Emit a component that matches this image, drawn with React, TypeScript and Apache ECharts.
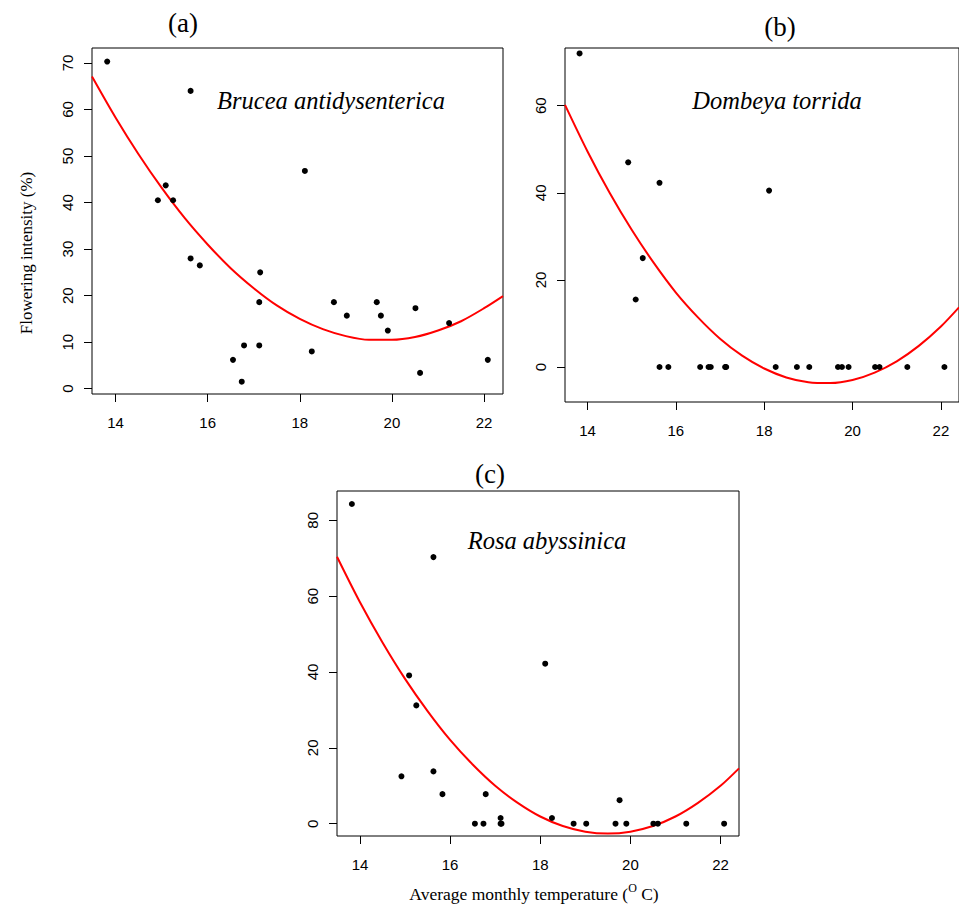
import React, { useEffect, useRef } from "react";
import * as echarts from "echarts";

// Shared temperature values (°C) for each site
const temperature = [13.82, 14.92, 15.09, 15.25, 15.63, 15.63, 15.83, 16.55, 16.74, 16.79, 17.12, 17.12, 17.14, 18.11, 18.26, 18.74, 19.02, 19.67, 19.76, 19.91, 20.51, 20.61, 21.24, 22.08];

// Flowering intensity (%) per species
const brucea = [70.3, 40.5, 43.7, 40.5, 64.0, 28.0, 26.5, 6.2, 1.5, 9.3, 18.6, 9.3, 25.0, 46.8, 8.0, 18.6, 15.7, 18.6, 15.7, 12.5, 17.3, 3.4, 14.1, 6.2];
const dombeya = [72.0, 47.0, 15.5, 25.0, 42.3, 0, 0, 0, 0, 0, 0, 0, 0, 40.5, 0, 0, 0, 0, 0, 0, 0, 0, 0, 0];
const rosa = [84.3, 12.5, 39.1, 31.2, 70.3, 13.8, 7.8, 0, 0, 7.8, 1.5, 0, 0, 42.2, 1.5, 0, 0, 0, 6.2, 0, 0, 0, 0, 0];

// Fitted curves (values at these temperatures)
const fitX = [13.49, 14, 14.5, 15, 15.5, 16, 16.5, 17, 17.5, 18, 18.5, 19, 19.5, 20, 20.5, 21, 21.5, 22, 22.41];
const fitA = [67.1, 58.3, 50.4, 43.2, 36.7, 31.0, 25.9, 21.6, 17.9, 15.0, 12.8, 11.3, 10.5, 10.5, 11.1, 12.5, 14.5, 17.3, 19.9];
const fitB = [60.2, 49.5, 40.0, 31.5, 23.9, 17.1, 11.4, 6.5, 2.6, -0.35, -2.4, -3.5, -3.7, -3.0, -1.3, 1.3, 4.85, 9.3, 13.7];
const fitC = [70.4, 58.4, 47.8, 38.2, 29.7, 22.1, 15.6, 10.0, 5.5, 1.9, -0.6, -2.1, -2.6, -2.1, -0.6, 1.9, 5.5, 10.0, 14.6];

// Tick labels
const xTicks = [14, 16, 18, 20, 22];
const yTicksA = [0, 10, 20, 30, 40, 50, 60, 70];
const yTicksB = [0, 20, 40, 60];
const yTicksC = [0, 20, 40, 60, 80];

const panelLabels = ["(a)", "(b)", "(c)"];
const speciesNames = ["Brucea antidysenterica", "Dombeya torrida", "Rosa abyssinica"];
const yTitle = "Flowering intensity (%)";

const SANS = "'Liberation Sans', Arial, Helvetica, sans-serif";
const SERIF = "'Liberation Serif', 'Times New Roman', Times, serif";

export default function App() {
  const ref = useRef<HTMLDivElement>(null);

  useEffect(() => {
    if (!ref.current) return;
    const chart = echarts.init(ref.current, undefined, { renderer: "svg" });

    const gridStyle = { show: true, borderColor: "#000", borderWidth: 1, backgroundColor: "transparent" };
    const grids = [
      { left: 92, top: 48, width: 411, height: 346, ...gridStyle },
      { left: 565, top: 48, width: 395, height: 354, ...gridStyle },
      { left: 337, top: 491, width: 402, height: 345, ...gridStyle },
    ];

    const xAxis = [0, 1, 2].map((i) => ({
      type: "value",
      gridIndex: i,
      min: 13.49,
      max: 22.41,
      axisLine: { show: false, onZero: false },
      axisTick: { show: true, length: 8, lineStyle: { color: "#000", width: 1 }, customValues: xTicks },
      axisLabel: { color: "#000", fontFamily: SANS, fontSize: 15, margin: 21, customValues: xTicks },
      splitLine: { show: false },
    }));

    const yRanges = [
      { min: -1.14, max: 73.22, ticks: yTicksA },
      { min: -8.04, max: 73.25, ticks: yTicksB },
      { min: -3.24, max: 87.73, ticks: yTicksC },
    ];
    const yAxis = yRanges.map((r, i) => ({
      type: "value",
      gridIndex: i,
      min: r.min,
      max: r.max,
      axisLine: { show: false, onZero: false },
      axisTick: { show: true, length: 8, lineStyle: { color: "#000", width: 1 }, customValues: r.ticks },
      axisLabel: { color: "#000", fontFamily: SANS, fontSize: 15, margin: 17, rotate: 90, customValues: r.ticks },
      splitLine: { show: false },
    }));

    const pointSets = [brucea, dombeya, rosa];
    const fits = [fitA, fitB, fitC];

    const series: any[] = [];
    pointSets.forEach((vals, i) => {
      series.push({
        type: "line",
        xAxisIndex: i,
        yAxisIndex: i,
        data: fitX.map((x, k) => [x, fits[i][k]]),
        smooth: 0.3,
        showSymbol: false,
        symbol: "none",
        clip: true,
        lineStyle: { color: "#ff0000", width: 2 },
        z: 2,
      });
      series.push({
        type: "scatter",
        xAxisIndex: i,
        yAxisIndex: i,
        data: temperature.map((t, k) => [t, vals[k]]),
        symbol: "circle",
        symbolSize: 6,
        itemStyle: { color: "#000", opacity: 1 },
        z: 3,
      });
    });

    const labelPos = [
      [183, 23],
      [780, 27],
      [490, 474],
    ];
    const speciesPos = [
      [331, 100],
      [777, 100],
      [547, 540],
    ];

    const graphic: any[] = [];
    panelLabels.forEach((t, i) => {
      graphic.push({
        type: "text",
        x: labelPos[i][0],
        y: labelPos[i][1],
        style: { text: t, font: `27px ${SERIF}`, fill: "#000", textAlign: "center", textVerticalAlign: "middle" },
      });
      graphic.push({
        type: "text",
        x: speciesPos[i][0],
        y: speciesPos[i][1],
        style: {
          text: speciesNames[i],
          font: `italic 24.5px ${SERIF}`,
          fill: "#000",
          textAlign: "center",
          textVerticalAlign: "middle",
        },
      });
    });
    graphic.push({
      type: "text",
      x: 26,
      y: 253,
      rotation: Math.PI / 2,
      style: { text: yTitle, font: `17px ${SERIF}`, fill: "#000", textAlign: "center", textVerticalAlign: "middle" },
    });
    graphic.push({
      type: "text",
      x: 534,
      y: 894,
      style: {
        text: "Average monthly temperature ({sup|O} C)",
        fill: "#000",
        fontFamily: SERIF,
        fontSize: 17.5,
        textAlign: "center",
        textVerticalAlign: "middle",
        rich: {
          sup: { fontFamily: SERIF, fontSize: 12, padding: [0, 0, 12, 0], fill: "#000" },
        },
      },
    });

    chart.setOption({
      animation: false,
      backgroundColor: "#fff",
      grid: grids,
      xAxis,
      yAxis,
      series,
      graphic,
    });

    return () => chart.dispose();
  }, []);

  return (
    <div
      ref={ref}
      style={{ position: "absolute", left: 0, top: 0, width: 959, height: 904, background: "#fff" }}
    />
  );
}
